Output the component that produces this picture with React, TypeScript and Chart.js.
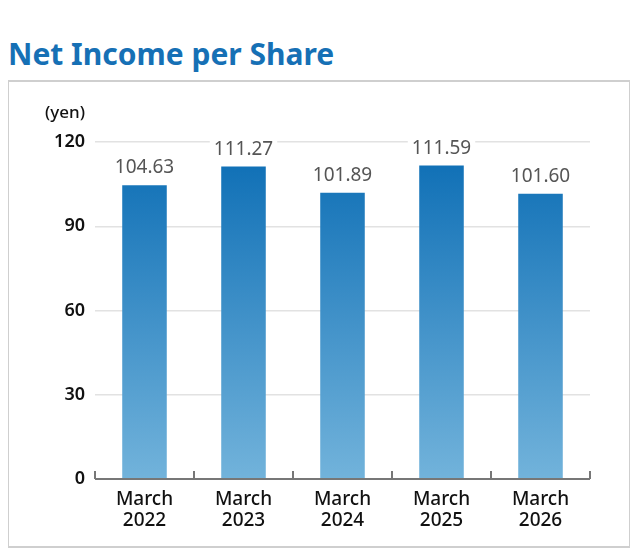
import { useEffect, useRef } from 'react';
import { Chart, registerables, type Plugin } from 'chart.js';

Chart.register(...registerables);

const categories: string[][] = [
    ['March', '2022'],
    ['March', '2023'],
    ['March', '2024'],
    ['March', '2025'],
    ['March', '2026']
];
const values = [104.63, 111.27, 101.89, 111.59, 101.6];
const yTicks = [0, 30, 60, 90, 120];

const FONT = '"Noto Sans", sans-serif';

// value labels above bars, with a white patch so the grid line breaks under them
const valueLabels: Plugin<'bar'> = {
    id: 'valueLabels',
    afterDatasetsDraw(chart) {
        const ctx = chart.ctx;
        const meta = chart.getDatasetMeta(0);
        ctx.save();
        ctx.font = `400 19px ${FONT}`;
        ctx.textAlign = 'center';
        ctx.textBaseline = 'alphabetic';
        meta.data.forEach((bar, i) => {
            const txt = values[i].toFixed(2);
            const w = ctx.measureText(txt).width;
            const base = bar.y - 12;
            ctx.fillStyle = '#fff';
            ctx.fillRect(bar.x - w / 2 - 4, base - 17, w + 8, 21);
            ctx.fillStyle = '#555';
            ctx.fillText(txt, bar.x, base);
        });
        ctx.restore();
    }
};

// axis line ticks pointing up at category edges, plus the unit label
const axisExtras: Plugin<'bar'> = {
    id: 'axisExtras',
    afterDraw(chart) {
        const ctx = chart.ctx;
        const { left, right, bottom, top } = chart.chartArea;
        const n = categories.length;
        const step = (right - left) / n;
        ctx.save();
        ctx.strokeStyle = '#777';
        ctx.lineWidth = 2;
        for (let i = 0; i <= n; i++) {
            const x = Math.round(left + step * i);
            ctx.beginPath();
            ctx.moveTo(x, bottom);
            ctx.lineTo(x, bottom - 8);
            ctx.stroke();
        }
        ctx.beginPath();
        ctx.moveTo(left, bottom);
        ctx.lineTo(right, bottom);
        ctx.stroke();
        ctx.fillStyle = '#111';
        ctx.font = `500 17px ${FONT}`;
        ctx.textAlign = 'center';
        ctx.textBaseline = 'middle';
        ctx.fillText('(yen)', 56, top - 29);
        ctx.restore();
    }
};

export default function App() {
    const canvasRef = useRef<HTMLCanvasElement | null>(null);

    useEffect(() => {
        if (!canvasRef.current) return;
        const chart = new Chart(canvasRef.current, {
            type: 'bar',
            data: {
                labels: categories,
                datasets: [
                    {
                        data: values,
                        barPercentage: 0.45,
                        categoryPercentage: 1,
                        backgroundColor: (c) => {
                            const area = c.chart.chartArea;
                            if (!area) return '#2f86c6';
                            const g = c.chart.ctx.createLinearGradient(0, area.bottom, 0, area.top);
                            g.addColorStop(0, '#72b3db');
                            g.addColorStop(1, '#0a6cb4');
                            return g;
                        }
                    }
                ]
            },
            options: {
                responsive: true,
                maintainAspectRatio: false,
                animation: false,
                layout: { padding: { top: 60, right: 39, left: 0, bottom: 0 } },
                plugins: { legend: { display: false }, tooltip: { enabled: false } },
                scales: {
                    x: {
                        grid: { display: false, drawTicks: false },
                        border: { display: false },
                        afterFit: (s) => {
                            s.height = 67;
                        },
                        ticks: {
                            color: '#111',
                            padding: 10,
                            font: { family: FONT, size: 19, weight: 500, lineHeight: 1.1 }
                        }
                    },
                    y: {
                        min: 0,
                        max: 120,
                        afterBuildTicks: (s) => {
                            s.ticks = yTicks.map((v) => ({ value: v }));
                        },
                        afterFit: (s) => {
                            s.width = 86;
                        },
                        grid: { color: '#e2e2e2', lineWidth: 1.5, drawTicks: false },
                        border: { display: false },
                        ticks: {
                            color: '#111',
                            padding: 10,
                            font: { family: FONT, size: 18, weight: 600 }
                        }
                    }
                }
            },
            plugins: [valueLabels, axisExtras]
        });
        return () => chart.destroy();
    }, []);

    return (
        <div style={{ position: 'relative', width: 624, height: 540, fontFamily: FONT }}>
            <div
                style={{
                    position: 'absolute',
                    left: 0,
                    top: 26,
                    fontSize: 30,
                    fontWeight: 700,
                    color: '#1670b5',
                    lineHeight: '40px',
                    whiteSpace: 'nowrap'
                }}
            >
                Net Income per Share
            </div>
            <div
                style={{
                    position: 'absolute',
                    left: -1,
                    top: 72,
                    width: 620,
                    height: 464,
                    border: '2px solid #cfcfcf'
                }}
            >
                <canvas ref={canvasRef} />
            </div>
        </div>
    );
}
